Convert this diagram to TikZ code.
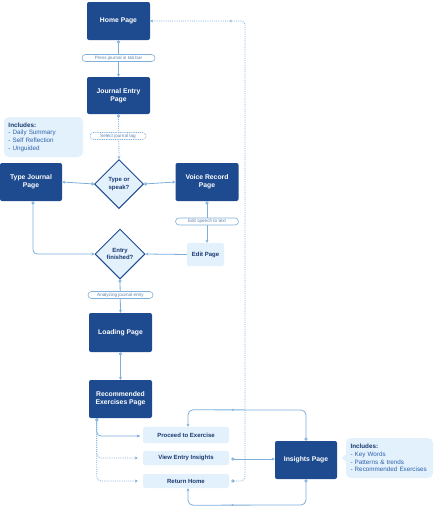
\documentclass[tikz,border=0pt]{standalone}
\usepackage{fontspec}
\setmainfont{Liberation Sans}
\usetikzlibrary{shapes.geometric,arrows.meta,calc,decorations.markings}
\definecolor{dblue}{HTML}{1E4B8F}
\definecolor{lblue}{HTML}{E3F1FD}
\definecolor{cline}{HTML}{7DAFDA}
\definecolor{tblue}{HTML}{1A3A6E}
\definecolor{lsblue}{HTML}{2F62A8}
\definecolor{pilltext}{HTML}{5F83AD}
\tikzset{
  darkbox/.style={rectangle, rounded corners=2pt, fill=dblue, text=white,
    font=\bfseries\fontsize{6.8}{8.4}\selectfont, align=center, inner sep=0pt,
    minimum width=63pt, minimum height=38pt},
  lightbox/.style={rectangle, rounded corners=2pt, fill=lblue, text=tblue,
    font=\bfseries\fontsize{6}{7}\selectfont, align=center, inner sep=0pt},
  infobox/.style={rectangle, rounded corners=5pt, fill=lblue, text=lsblue,
    font=\fontsize{6.3}{7.6}\selectfont, align=left, inner sep=0pt, text width=70pt},
  decision/.style={diamond, aspect=1, fill=lblue, draw=dblue, line width=1pt, text=tblue,
    font=\bfseries\fontsize{6}{7.2}\selectfont, align=center, inner sep=0pt, minimum size=49pt},
  pill/.style={rectangle, rounded corners=3.5pt, draw=cline, fill=white, line width=0.6pt,
    text=pilltext, font=\fontsize{4.6}{5}\selectfont, inner sep=0pt, minimum height=7pt},
  conn/.style={draw=cline, line width=0.8pt},
  dotconn/.style={draw=cline, line width=0.8pt, dash pattern=on 1pt off 1.2pt},
  tip/.style={-{Stealth[length=3pt,width=3pt]}},
  ctip/.style={{Circle[open,length=3.2pt,width=3.2pt,fill=white]}-{Stealth[length=3pt,width=3pt]}},
  cnotip/.style={{Circle[open,length=3.2pt,width=3.2pt,fill=white]}-},
  midarrow/.style={postaction={decorate,decoration={markings,
    mark=at position #1 with {\arrow{Stealth[length=2.6pt,width=2.6pt]}}}}},
}
\begin{document}
\begin{tikzpicture}[x=1pt,y=-1pt]
\useasboundingbox (0,0) rectangle (447,506);

% nodes
\node[darkbox] (home) at (118.5,21) {Home Page};
\node[darkbox, minimum height=37pt] (journal) at (118.5,95.5) {Journal Entry\\Page};
\node[infobox, minimum width=79pt, minimum height=40pt, text width=70pt] (inc1) at (43.5,137)
  {{\bfseries\color{tblue}Includes:}\\- Daily Summary\\- Self Reflection\\- Unguided};
\node[decision] (tos) at (119,184) {Type or\\speak?};
\node[darkbox, minimum width=62pt] (typej) at (31,182) {Type Journal\\Page};
\node[darkbox] (voice) at (207,182) {Voice Record\\Page};
\node[lightbox, minimum width=37pt, minimum height=23pt] (editp) at (205.5,254.5) {Edit Page};
\node[decision, minimum size=50pt] (entry) at (120,254) {Entry\\finished?};
\node[darkbox, minimum height=39pt] (loading) at (120.5,332.5) {Loading Page};
\node[darkbox] (rec) at (120.5,399) {Recommended\\Exercises Page};
\node[lightbox, minimum width=86pt, minimum height=16pt] (proceed) at (186,435) {Proceed to Exercise};
\node[lightbox, minimum width=86pt, minimum height=14pt] (view) at (186,458) {View Entry Insights};
\node[lightbox, minimum width=86pt, minimum height=14pt] (rethome) at (186,481) {Return Home};
\node[darkbox, minimum width=62pt] (insights) at (306,460) {Insights Page};
\node[infobox, minimum width=87pt, minimum height=40pt, text width=78pt] (inc2) at (389.5,458)
  {{\bfseries\color{tblue}Includes:}\\- Key Words\\- Patterns \& trends\\- Recommended Exercises};
\fill[lblue] ($(inc2.west)+(0.5,-4)$) -- ($(inc2.west)+(-4,0)$) -- ($(inc2.west)+(0.5,4)$) -- cycle;

% coordinates for branch points
\coordinate (recbl) at ($(rec.south west)+(8,0)$);

% connectors
\draw[conn,ctip] (home.south) -- (journal.north);
\draw[dotconn,ctip] (journal.south) -- (tos.north);
\draw[conn,ctip] (tos.west) -- (typej.east);
\draw[conn,ctip] (tos.east) -- (voice.west);
\draw[conn,ctip] (voice.south) -- (voice.south |- editp.north);
\draw[conn,tip] (editp.west) -- (entry.east);
\draw[conn,ctip,rounded corners=4pt] ($(typej.south)+(2,0)$) |- (entry.west);
\draw[conn,ctip] (entry.south) -- (loading.north);
\draw[conn,ctip] (loading.south) -- (rec.north);
\draw[dotconn,rounded corners=4pt,tip] (recbl) |- ($(view.west)+(-5,0)$);
\draw[dotconn,rounded corners=4pt,tip] (recbl) |- ($(rethome.west)+(-5,0)$);
\draw[conn,cnotip,rounded corners=4pt] (recbl) |- ($(proceed.west)+(-3,1)$);
\draw[conn,tip] ($(proceed.west)+(-6,1)$) -- ($(proceed.west)+(-3,1)$);
\draw[conn,ctip] ($(view.east)+(2,1)$) -- (insights.west |- 0,459);
\draw[conn,ctip,rounded corners=5pt,midarrow=0.64] (insights.north) -- (insights.north |- 0,410)
  -- ($(proceed.north)+(2,-17)$) -- ($(proceed.north)+(2,0)$);
\draw[conn,ctip,rounded corners=5pt,midarrow=0.63] (insights.south) -- (insights.south |- 0,505)
  -- ($(rethome.south)+(2,17)$) -- ($(rethome.south)+(2,0)$);
\draw[dotconn,ctip,rounded corners=4pt,midarrow=0.86] ($(rethome.east)+(2,0)$) -- (245,481)
  -- (245,21) -- (home.east);

% labels
\node[pill, minimum width=73pt] (p1) at (118.5,58) {Press journal in tab bar};
\node[pill, minimum width=56pt, dash pattern=on 1pt off 0.8pt] (p2) at (118,136) {Select journal tag};
\node[pill, minimum width=63pt] (p3) at (207,221.5) {Edit speech to text};
\node[pill, minimum width=65pt] (p4) at (120.5,295) {Analyzing journal entry};
\end{tikzpicture}
\end{document}
